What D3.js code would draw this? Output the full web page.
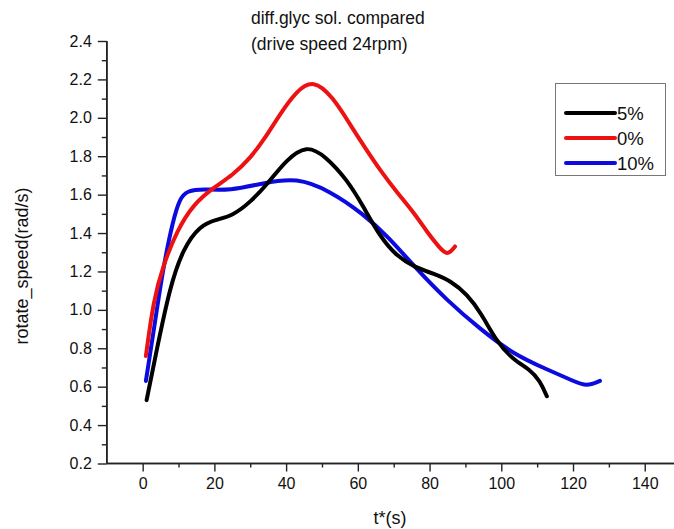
<!DOCTYPE html>
<html>
<head>
<meta charset="utf-8">
<script src="https://cdn.jsdelivr.net/npm/d3@7"></script>
<style>
  html, body { margin: 0; padding: 0; background: #fff; }
  svg { display: block; font-family: "Liberation Sans", Arial, sans-serif; }
</style>
</head>
<body>
<svg id="chart" width="674" height="529"></svg>
<script>
// ---- data ----
const seriesNames = ["5%", "0%", "10%"];
const seriesColors = ["#000000", "#ee1111", "#0b0be0"];

const t5 = [1.1, 3.9, 7.6, 11.3, 16.0, 20.6, 25.0, 30.0, 35.0, 40.0, 45.7, 51.0, 56.9, 61.5, 66.2, 70.8, 76.0, 81.0, 86.0, 90.5, 94.5, 98.5, 103.3, 108.0, 110.8, 112.7];
const v5 = [0.53, 0.79, 1.12, 1.32, 1.44, 1.47, 1.49, 1.56, 1.66, 1.78, 1.86, 1.80, 1.68, 1.54, 1.38, 1.28, 1.22, 1.19, 1.15, 1.08, 0.98, 0.84, 0.74, 0.69, 0.63, 0.55];

const t0 = [0.9, 3.0, 5.7, 9.5, 14.1, 20.0, 25.0, 30.0, 34.0, 38.3, 42.9, 47.6, 53.0, 58.0, 62.5, 66.5, 71.0, 75.5, 79.5, 82.5, 85.0, 87.1];
const v0 = [0.76, 1.05, 1.23, 1.41, 1.55, 1.64, 1.70, 1.79, 1.89, 2.02, 2.14, 2.20, 2.11, 1.96, 1.83, 1.72, 1.61, 1.51, 1.40, 1.33, 1.28, 1.33];

const t10 = [0.9, 3.0, 5.7, 8.5, 10.4, 12.3, 16.9, 24.3, 33.6, 42.9, 52.2, 61.5, 68.5, 76.0, 84.8, 94.1, 103.3, 112.7, 120.1, 123.8, 127.5];
const v10 = [0.63, 0.88, 1.22, 1.47, 1.58, 1.62, 1.63, 1.62, 1.66, 1.69, 1.62, 1.50, 1.38, 1.22, 1.05, 0.90, 0.77, 0.69, 0.63, 0.60, 0.63];

const xTicks = [0, 20, 40, 60, 80, 100, 120, 140];
const xMinor = [10, 30, 50, 70, 90, 110, 130, 150];
const yTicks = [0.2, 0.4, 0.6, 0.8, 1.0, 1.2, 1.4, 1.6, 1.8, 2.0, 2.2, 2.4];
const yMinor = [0.3, 0.5, 0.7, 0.9, 1.1, 1.3, 1.5, 1.7, 1.9, 2.1, 2.3];

const titleLines = ["diff.glyc sol. compared", "(drive speed 24rpm)"];
const xLabel = "t*(s)";
const yLabel = "rotate_speed(rad/s)";

// ---- build ----
const series = [
  { name: seriesNames[0], color: seriesColors[0], pts: t5.map((t, i) => [t, v5[i]]) },
  { name: seriesNames[1], color: seriesColors[1], pts: t0.map((t, i) => [t, v0[i]]) },
  { name: seriesNames[2], color: seriesColors[2], pts: t10.map((t, i) => [t, v10[i]]) }
];

const svg = d3.select("#chart");
const x = d3.scaleLinear().domain([-10, 150]).range([106.8, 680.6]);
const y = d3.scaleLinear().domain([0.2, 2.4]).range([463.5, 41]);

const axisColor = "#222";

// x axis
const gx = svg.append("g").attr("transform", `translate(0,${y(0.2)})`)
  .call(d3.axisBottom(x).tickValues(xTicks).tickSize(8).tickPadding(6).tickFormat(d3.format("d")));
gx.append("g").call(d3.axisBottom(x).tickValues(xMinor).tickSize(4).tickFormat(""));
gx.selectAll(".domain").attr("stroke", axisColor).attr("stroke-width", 1.6).attr("d", `M${x(-10)},0H${x(150)}`);
gx.selectAll(".tick line").attr("stroke", axisColor).attr("stroke-width", 1.4);
gx.selectAll(".tick text").attr("font-size", 16).attr("fill", "#111").attr("font-family", "Liberation Sans, Arial, sans-serif");

// y axis
const gy = svg.append("g").attr("transform", `translate(${x(-10)},0)`)
  .call(d3.axisLeft(y).tickValues(yTicks).tickSize(9).tickPadding(6).tickFormat(d3.format(".1f")));
gy.append("g").call(d3.axisLeft(y).tickValues(yMinor).tickSize(5).tickFormat(""));
gy.selectAll(".domain").attr("stroke", axisColor).attr("stroke-width", 1.6).attr("d", `M0,${y(2.4)}V${y(0.2)}`);
gy.selectAll(".tick line").attr("stroke", axisColor).attr("stroke-width", 1.4);
gy.selectAll(".tick text").attr("font-size", 16).attr("fill", "#111").attr("font-family", "Liberation Sans, Arial, sans-serif");

// lines
const line = d3.line().x(d => x(d[0])).y(d => y(d[1])).curve(d3.curveBasis);
svg.append("g").selectAll("path").data([series[2], series[1], series[0]]).join("path")
  .attr("d", d => line(d.pts))
  .attr("fill", "none")
  .attr("stroke", d => d.color)
  .attr("stroke-width", 4)
  .attr("stroke-linecap", "round")
  .attr("stroke-linejoin", "round");

// title
svg.append("g").selectAll("text").data(titleLines).join("text")
  .attr("x", 251).attr("y", (d, i) => 24 + i * 26)
  .attr("font-size", 17.5).attr("fill", "#111").text(d => d);

// axis labels
svg.append("text").attr("x", 390).attr("y", 524).attr("text-anchor", "middle")
  .attr("font-size", 18).attr("fill", "#111").text(xLabel);
svg.append("text").attr("transform", "translate(28,266) rotate(-90)").attr("text-anchor", "middle")
  .attr("font-size", 18).attr("fill", "#111").text(yLabel);

// legend
const lg = svg.append("g");
lg.append("rect").attr("x", 555.5).attr("y", 83.5).attr("width", 110).attr("height", 92)
  .attr("fill", "#fff").attr("stroke", "#777").attr("stroke-width", 1);
const ly = [113, 138, 163];
lg.selectAll("line").data(series).join("line")
  .attr("x1", 566).attr("x2", 615).attr("y1", (d, i) => ly[i]).attr("y2", (d, i) => ly[i])
  .attr("stroke", d => d.color).attr("stroke-width", 4).attr("stroke-linecap", "round");
lg.selectAll("text").data(series).join("text")
  .attr("x", 617).attr("y", (d, i) => ly[i] + 6.5)
  .attr("font-size", 18.5).attr("fill", "#111").text(d => d.name);
</script>
</body>
</html>
